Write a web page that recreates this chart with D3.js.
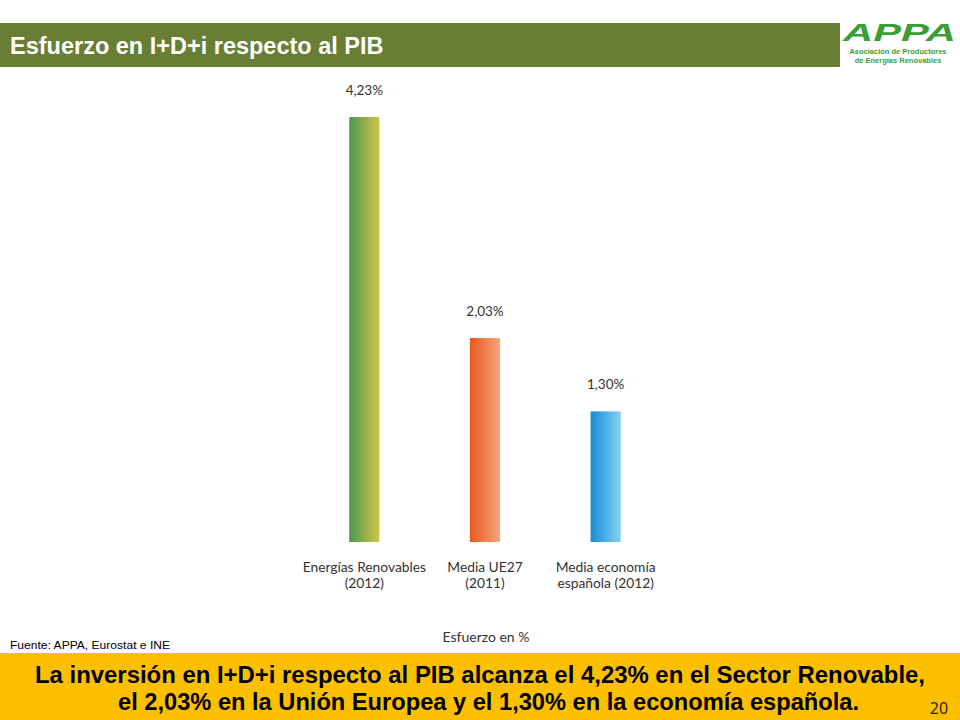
<!DOCTYPE html>
<html><head><meta charset="utf-8">
<script src="https://cdn.jsdelivr.net/npm/d3@7"></script>
<style>html,body{margin:0;padding:0;background:#fff;}svg{display:block;}</style>
</head><body>
<script>
const categories = [["Energías Renovables","(2012)"],["Media UE27","(2011)"],["Media economía","española (2012)"]];
const values = [4.23, 2.03, 1.30];
const valueLabels = ["4,23%","2,03%","1,30%"];
const gradients = [["#4b9a4e","#cfc44c"],["#e8581c","#f5a57e"],["#148dd6","#86d0f2"]];

const W=960,H=720;
const svg=d3.select("body").append("svg").attr("width",W).attr("height",H);
const defs=svg.append("defs");
gradients.forEach((g,i)=>{
  const lg=defs.append("linearGradient").attr("id","g"+i).attr("x1","0").attr("x2","1").attr("y1","0").attr("y2","0");
  lg.append("stop").attr("offset","0").attr("stop-color",g[0]);
  lg.append("stop").attr("offset","1").attr("stop-color",g[1]);
});

// title bar
svg.append("rect").attr("x",0).attr("y",23).attr("width",840).attr("height",44).attr("fill","#687e35");
svg.append("text").attr("x",10).attr("y",54).attr("fill","#fff").attr("font-family","Liberation Sans, Arial, sans-serif")
  .attr("font-weight","bold").attr("font-size",23.5).text("Esfuerzo en I+D+i respecto al PIB");

// logo
const logo=svg.append("g").attr("font-family","Liberation Sans, Arial, sans-serif").attr("fill","#3a9e35");
logo.append("text").attr("x",843).attr("y",41).attr("font-size",23).attr("font-weight","bold")
  .attr("font-style","italic").attr("textLength",113).attr("lengthAdjust","spacingAndGlyphs").text("APPA");
logo.append("text").attr("x",898).attr("y",54).attr("text-anchor","middle").attr("font-size",7.5).attr("font-weight","bold").text("Asociación de Productores");
logo.append("text").attr("x",898).attr("y",63).attr("text-anchor","middle").attr("font-size",7.5).attr("font-weight","bold").text("de Energías Renovables");

// chart
const x=d3.scaleBand().domain(d3.range(values.length)).range([304,666]).paddingInner(0.75).paddingOuter(0.375);
const y=d3.scaleLinear().domain([0,4.23]).range([542,117]);
const g=svg.append("g");
g.selectAll("rect.bar").data(values).join("rect").attr("class","bar")
  .attr("x",(d,i)=>x(i)).attr("width",x.bandwidth()).attr("y",d=>y(d)).attr("height",d=>y(0)-y(d))
  .attr("fill",(d,i)=>`url(#g${i})`);
g.selectAll("text.val").data(values).join("text").attr("class","val")
  .attr("x",(d,i)=>x(i)+x.bandwidth()/2).attr("y",d=>y(d)-22).attr("text-anchor","middle")
  .attr("font-family","Lato, Open Sans, sans-serif").attr("font-size",13.5).attr("fill","#333")
  .text((d,i)=>valueLabels[i]);
const cat=g.selectAll("text.cat").data(categories).join("text").attr("class","cat")
  .attr("text-anchor","middle").attr("font-family","Lato, Open Sans, sans-serif").attr("font-size",13.8).attr("fill","#333");
cat.each(function(d,i){
  const t=d3.select(this);
  d.forEach((line,j)=>t.append("tspan").attr("x",x(i)+x.bandwidth()/2).attr("y",572+j*16).text(line));
});
svg.append("text").attr("x",486).attr("y",642).attr("text-anchor","middle").attr("font-family","Lato, Open Sans, sans-serif")
  .attr("font-size",14).attr("fill","#333").text("Esfuerzo en %");

svg.append("text").attr("x",10).attr("y",649).attr("font-family","Liberation Sans, Arial, sans-serif")
  .attr("font-size",11).attr("fill","#000").attr("textLength",160).attr("lengthAdjust","spacingAndGlyphs").text("Fuente: APPA, Eurostat e INE");

// bottom box
svg.append("rect").attr("x",0).attr("y",653).attr("width",960).attr("height",67).attr("fill","#fdc000");
const bt=svg.append("g").attr("font-family","Liberation Sans, Arial, sans-serif")
  .attr("font-weight","bold").attr("font-size",24).attr("fill","#000");
bt.append("text").attr("x",35).attr("y",683).attr("textLength",890).attr("lengthAdjust","spacingAndGlyphs")
  .text("La inversión en I+D+i respecto al PIB alcanza el 4,23% en el Sector Renovable,");
bt.append("text").attr("x",118).attr("y",710).attr("textLength",741).attr("lengthAdjust","spacingAndGlyphs")
  .text("el 2,03% en la Unión Europea y el 1,30% en la economía española.");
svg.append("text").attr("x",939).attr("y",714).attr("text-anchor","middle").attr("font-family","Open Sans, sans-serif")
  .attr("font-size",16).attr("fill","#222").text("20");
</script>
</body></html>
